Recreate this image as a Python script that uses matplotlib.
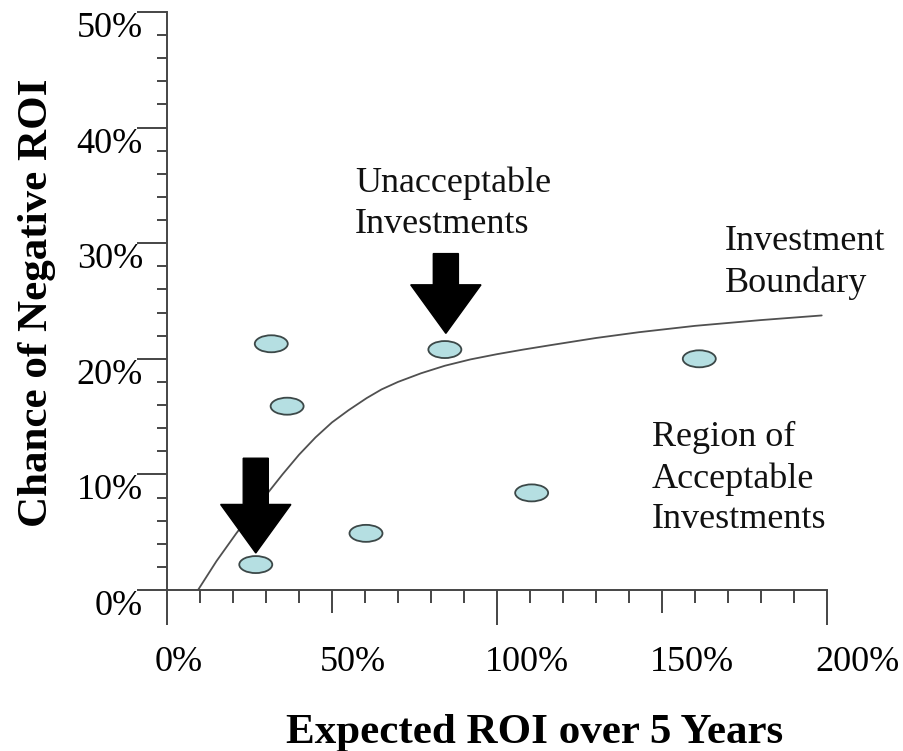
"""Risk vs. expected return chart with the investment boundary."""

import matplotlib
matplotlib.use("Agg")
import matplotlib.pyplot as plt
from matplotlib.patches import Ellipse, FancyArrow
from matplotlib.transforms import ScaledTranslation

# candidate investments: expected ROI (%) and chance of a negative ROI (%)
roi = [31.6, 36.4, 26.9, 60.3, 84.2, 110.5, 161.3]
neg_chance = [21.3, 15.9, 2.2, 4.9, 20.8, 8.4, 20.0]

# investment boundary
boundary_roi = [9.4, 15, 21, 25, 30, 35, 40, 45, 50, 55, 60.5, 65, 70, 77,
                84.2, 92, 100, 108, 116, 130, 143, 160, 180, 198.4]
boundary_neg = [0.0, 2.5, 4.9, 6.4, 8.2, 10.0, 11.7, 13.2, 14.5, 15.55, 16.6,
                17.35, 18.0, 18.75, 19.4, 19.95, 20.4, 20.8, 21.17, 21.8,
                22.3, 22.85, 23.35, 23.75]

# big arrows: x position, tail top and tip (data units)
arrow_x = [26.9, 84.5]
arrow_top = [11.4, 29.1]
arrow_tip = [3.2, 22.2]

# free text labels: text, x, baseline of the last line
notes = [
    ("Unacceptable\nInvestments", 57.0, 30.9),
    ("Investment\nBoundary", 169.1, 25.8),
    ("Region of\nAcceptable\nInvestments", 146.9, 5.34),
]

x_ticks = [0, 50, 100, 150, 200]
x_labels = ["0%", "50%", "100%", "150%", "200%"]
y_ticks = [0, 10, 20, 30, 40, 50]
y_labels = ["0%", "10%", "20%", "30%", "40%", "50%"]

AXIS_COLOR = "#454545"

plt.rcParams["font.family"] = ["Liberation Serif", "DejaVu Serif"]

fig = plt.figure(figsize=(9.04, 7.51), dpi=100)
ax = fig.add_axes([167 / 904, 161 / 751, 660 / 904, 578 / 751])
ax.set_xlim(0, 200)
ax.set_ylim(0, 50)

for side in ["top", "right"]:
    ax.spines[side].set_visible(False)
for side in ["left", "bottom"]:
    ax.spines[side].set_color(AXIS_COLOR)
    ax.spines[side].set_linewidth(1.4)

# boundary curve
ax.plot(boundary_roi, boundary_neg, color="#505050", linewidth=1.3,
        solid_capstyle="round", solid_joinstyle="round", zorder=2)

# investments as small ellipses
for x, y in zip(roi, neg_chance):
    ax.add_patch(Ellipse((x, y), width=10, height=1.47,
                         facecolor="#b5dfe2", edgecolor="#3c4848",
                         linewidth=1.3, zorder=3))

# arrows
for x, top, tip in zip(arrow_x, arrow_top, arrow_tip):
    ax.add_patch(FancyArrow(x, top, 0, tip - top, width=7.6,
                            head_width=21.3, head_length=4.2,
                            length_includes_head=True, color="black",
                            zorder=4))

for text, x, y in notes:
    ax.text(x, y, text, fontsize=26, ha="left", va="baseline",
            linespacing=1.31, color="#111111")

# ticks
ax.set_xticks(x_ticks, x_labels)
ax.set_xticks(range(0, 201, 10), minor=True)
ax.set_yticks(y_ticks, y_labels)
ax.set_yticks(range(0, 51, 2), minor=True)

ax.tick_params(axis="x", which="major", length=16.5, width=1.4,
               color=AXIS_COLOR, labelsize=26, pad=23.6)
ax.tick_params(axis="x", which="minor", length=9.4, width=1.4,
               color=AXIS_COLOR)
ax.tick_params(axis="y", which="major", length=21.6, width=1.4,
               color=AXIS_COLOR, labelsize=26, pad=-4.3)
ax.tick_params(axis="y", which="minor", length=7.2, width=1.4,
               color=AXIS_COLOR)

# every 100% gets a longer tick
for tick, value in zip(ax.xaxis.get_major_ticks(), x_ticks):
    if value % 100 == 0:
        tick.tick1line.set_markersize(25.2)

shift = ScaledTranslation(-12 / 100, 0, fig.dpi_scale_trans)
for label in ax.get_xticklabels():
    label.set_ha("left")
    label.set_transform(label.get_transform() + shift)
for label in ax.get_yticklabels():
    label.set_va("top")

ax.set_xlabel("Expected ROI over 5 Years", fontsize=31, fontweight="bold")
ax.set_ylabel("Chance of Negative ROI", fontsize=31, fontweight="bold")
ax.xaxis.set_label_coords(0.5576, -0.215)
ax.yaxis.set_label_coords(-0.168, 0.497)

fig.savefig("out.png", dpi=100)
